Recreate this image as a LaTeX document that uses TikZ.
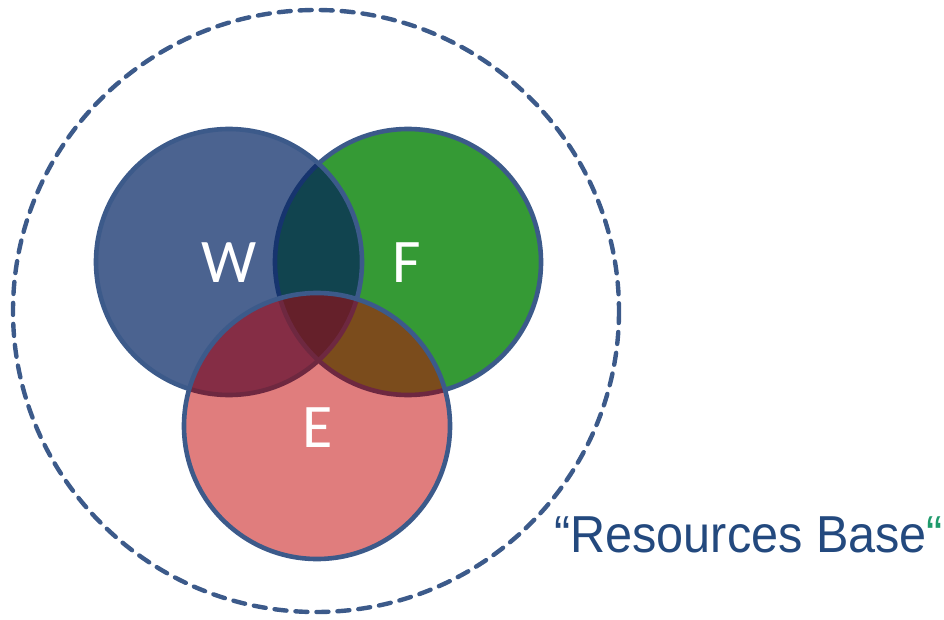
\documentclass[tikz,border=0pt]{standalone}
\usepackage{fontspec}
\newfontfamily\labelfont{Carlito}
\newfontfamily\captionfont{Liberation Sans}
\definecolor{rimblue}{HTML}{3C5A8A}
\definecolor{wfill}{HTML}{4B6390}
\definecolor{ffill}{HTML}{359A35}
\definecolor{efill}{HTML}{E07D7D}
\definecolor{wf}{HTML}{11444F}
\definecolor{we}{HTML}{852D45}
\definecolor{fe}{HTML}{7B4C1C}
\definecolor{wfe}{HTML}{65202A}
\definecolor{rimnavy}{HTML}{16346E}
\definecolor{rimred}{HTML}{6E2840}
\definecolor{captionblue}{HTML}{23497E}
\definecolor{quotegreen}{HTML}{1F9A6C}
\tikzset{
  rim/.style={line width=4.6pt, draw=rimblue},
  innerrim/.style={line width=4.6pt, draw=#1},
  letter/.style={text=white, font=\labelfont\fontsize{62}{62}\selectfont, inner sep=0pt},
  boundary/.style={line width=4.4pt, draw=rimblue, dash pattern=on 12pt off 9pt, line cap=round}
}
\begin{document}
\begin{tikzpicture}[x=1pt, y=-1pt]
  \useasboundingbox (0,0) rectangle (944,620);
  % circle centres
  \coordinate (cw) at (229,262);
  \coordinate (cf) at (408,262);
  \coordinate (ce) at (317,426);
  \def\rad{133}
  % outer resources boundary
  \draw[boundary] (316,311) circle [x radius=303, y radius=301];
  % F layer (bottom)
  \fill[ffill] (cf) circle [radius=\rad];
  \draw[rim] (cf) circle [radius=\rad];
  % W layer
  \fill[wfill] (cw) circle [radius=\rad];
  \begin{scope}
    \clip (cw) circle [radius=\rad];
    \fill[wf] (cf) circle [radius=\rad];
    \draw[innerrim=rimnavy] (cf) circle [radius=\rad];
  \end{scope}
  \draw[rim] (cw) circle [radius=\rad];
  % E layer (top)
  \fill[efill] (ce) circle [radius=\rad];
  \begin{scope}
    \clip (ce) circle [radius=\rad];
    \fill[we] (cw) circle [radius=\rad];
    \fill[fe] (cf) circle [radius=\rad];
    \begin{scope}
      \clip (cw) circle [radius=\rad];
      \fill[wfe] (cf) circle [radius=\rad];
    \end{scope}
    \draw[innerrim=rimred] (cw) circle [radius=\rad];
    \draw[innerrim=rimred] (cf) circle [radius=\rad];
  \end{scope}
  \draw[rim] (ce) circle [radius=\rad];
  % labels
  \node[letter] (W) at (229,263) {W};
  \node[letter] (F) at (407,263) {F};
  \node[letter] (E) at (318,428) {E};
  \node[anchor=base west, inner sep=0pt, text=captionblue, yscale=1.07,
        font=\captionfont\fontsize{48.6}{48.6}\selectfont] (caption) at (554,552)
        {“Resources Base\textcolor{quotegreen}{“}};
\end{tikzpicture}
\end{document}
